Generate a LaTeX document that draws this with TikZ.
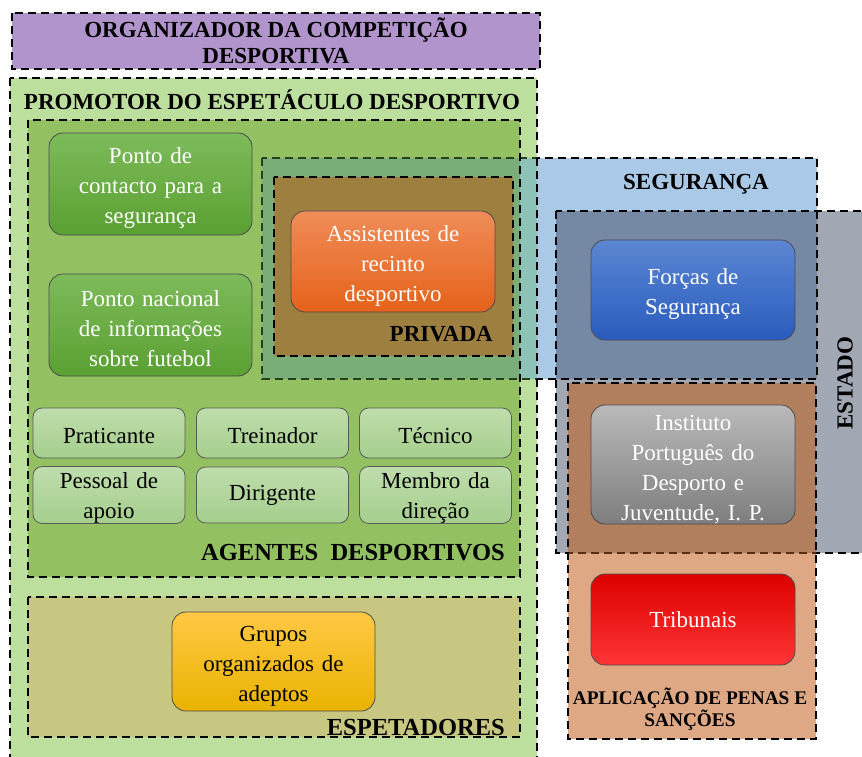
\documentclass[tikz,border=0pt]{standalone}
\usepackage{fontspec}
\setmainfont{Liberation Serif}
\usetikzlibrary{shadings}
\definecolor{orgfill}{HTML}{B294CC}
\definecolor{promfill}{HTML}{BDDF9D}
\definecolor{agfill}{HTML}{93C162}
\definecolor{espfill}{HTML}{C8C782}
\definecolor{segfill}{HTML}{A9C9E7}
\definecolor{segprom}{HTML}{8DC2B6}
\definecolor{segag}{HTML}{7AAE78}
\definecolor{privfill}{HTML}{9D803F}
\definecolor{estfill}{HTML}{A1A8B4}
\definecolor{estseg}{HTML}{7589A5}
\definecolor{aplfill}{HTML}{DFA885}
\definecolor{aplest}{HTML}{B17F5E}
\definecolor{darkgreenline}{HTML}{263F1C}
\definecolor{brownline}{HTML}{5A2E10}
\definecolor{smtop}{HTML}{BEDDAC}
\definecolor{smbot}{HTML}{A5CE8C}
\definecolor{grtop}{HTML}{7DBB5A}
\definecolor{grbot}{HTML}{5AA032}
\definecolor{ortop}{HTML}{F08C58}
\definecolor{orbot}{HTML}{E5621A}
\definecolor{bltop}{HTML}{5B86D2}
\definecolor{blbot}{HTML}{2A5CBE}
\definecolor{gytop}{HTML}{B9B9B9}
\definecolor{gybot}{HTML}{7E7E7E}
\definecolor{rdtop}{HTML}{DC0000}
\definecolor{rdbot}{HTML}{FF3535}
\definecolor{yltop}{HTML}{FFC845}
\definecolor{ylbot}{HTML}{E9B300}
\newcommand{\tstrut}{\rule{0pt}{24pt}}
\newcommand{\sstrut}{\rule{0pt}{22pt}}
\tikzset{
  region/.style={draw=black, line width=2.2pt, dash pattern=on 8pt off 5pt},
  lbl/.style={font=\fontsize{23}{26}\selectfont\bfseries, inner sep=0pt, align=center},
  bigbox/.style={rounded corners=14pt, draw=black!70, line width=0.8pt,
     minimum width=203pt, text width=195pt, align=center,
     font=\fontsize{23}{30}\selectfont, inner sep=0pt},
  smallbox/.style={rounded corners=9pt, draw=black!65, line width=0.8pt,
     top color=smtop, bottom color=smbot, minimum width=152pt, text width=146pt,
     align=center, font=\fontsize{23}{30}\selectfont, inner sep=0pt},
}
\begin{document}
\begin{tikzpicture}[x=1pt,y=-1pt]
\useasboundingbox (0,0) rectangle (862,756);
% ---- fills
\fill[orgfill] (12,13) rectangle (540,69);
\fill[promfill] (10,78) rectangle (537,775);
\fill[agfill] (28,120) rectangle (520,577);
\fill[espfill] (28,597) rectangle (520,737);
\fill[segfill] (262,158) rectangle (817,379);
\fill[segprom] (262,158) rectangle (537,379);
\fill[segag] (262,158) rectangle (520,379);
\fill[estfill] (556,211) rectangle (880,553);
\fill[estseg] (556,211) rectangle (817,379);
% estado border
\draw[region] (556,211) rectangle (880,553);
% aplicacao fills
\fill[aplfill] (568,383) rectangle (816,739);
\fill[aplest] (568,383) rectangle (816,553);
\begin{scope}
  \clip (568,383) rectangle (816,739);
  \draw[region, draw=brownline] (556,211) rectangle (880,553);
\end{scope}
% seguranca border
\begin{scope}
  \clip (0,0) rectangle (537,756);
  \draw[region, draw=darkgreenline] (262,158) rectangle (817,379);
\end{scope}
\begin{scope}
  \clip (537,0) rectangle (862,756);
  \draw[region] (262,158) rectangle (817,379);
\end{scope}
% other borders
\draw[region] (12,13) rectangle (540,69);
\draw[region] (10,78) rectangle (537,775);
\draw[region] (28,120) rectangle (520,577);
\draw[region] (28,597) rectangle (520,737);
\fill[privfill] (274,177) rectangle (513,356);
\draw[region] (274,177) rectangle (513,356);
\draw[region] (568,383) rectangle (816,739);
% ---- labels
\node[lbl] (org) at (276,41) {ORGANIZADOR DA COMPETIÇÃO\\DESPORTIVA};
\node[lbl] (prom) at (272,100) {PROMOTOR DO ESPETÁCULO DESPORTIVO};
\node[lbl, font=\fontsize{24.5}{26}\selectfont\bfseries, anchor=east] (ag) at (505,553) {AGENTES\ \ DESPORTIVOS};
\node[lbl, anchor=east] (priv) at (493,334) {PRIVADA};
\node[lbl] (seg) at (696,184) {SEGURANÇA};
\node[lbl, rotate=90] (est) at (845,383) {ESTADO};
\node[lbl, font=\fontsize{24.5}{26}\selectfont\bfseries, anchor=east] (esp) at (505,727) {ESPETADORES};
\node[lbl, font=\fontsize{19.3}{22}\selectfont\bfseries] (apl) at (690,709) {APLICAÇÃO DE PENAS E\\SANÇÕES};
% ---- boxes
\node[bigbox, minimum height=102pt, top color=grtop, bottom color=grbot, text=white] (pc) at (150.5,184) {\tstrut Ponto de\\contacto para a\\segurança};
\node[bigbox, minimum height=102pt, top color=grtop, bottom color=grbot, text=white] (pn) at (150.5,325) {\tstrut Ponto nacional\\de informações\\sobre futebol};
\node[bigbox, minimum width=204pt, minimum height=101pt, top color=ortop, bottom color=orbot, text=white] (ass) at (393,261.5) {\tstrut Assistentes de\\recinto\\desportivo};
\node[bigbox, minimum width=204pt, minimum height=100pt, top color=bltop, bottom color=blbot, text=white] (for) at (693,290) {\tstrut Forças de\\Segurança};
\node[bigbox, minimum width=204pt, minimum height=119pt, top color=gytop, bottom color=gybot, text=white] (ins) at (693,464.5) {\rule{0pt}{25pt}Instituto\\Português do\\Desporto e\\Juventude, I. P.};
\node[bigbox, minimum width=204pt, minimum height=91pt, top color=rdtop, bottom color=rdbot, text=white] (tri) at (693,619.5) {Tribunais};
\node[bigbox, minimum height=99pt, top color=yltop, bottom color=ylbot, text=black] (gru) at (273.5,661.5) {\tstrut Grupos\\organizados de\\adeptos};
% small boxes
\node[smallbox, minimum height=50pt] (pra) at (109,433) {\sstrut Praticante};
\node[smallbox, minimum height=50pt] (tre) at (272.5,433) {\sstrut Treinador};
\node[smallbox, minimum height=50pt] (tec) at (435.5,433) {\sstrut Técnico};
\node[smallbox, minimum height=56pt] (pes) at (109,495) {\sstrut Pessoal de\\apoio};
\node[smallbox, minimum height=56pt] (dir) at (272.5,495) {Dirigente};
\node[smallbox, minimum height=56pt] (mem) at (435.5,495) {\sstrut Membro da\\direção};
\end{tikzpicture}
\end{document}
